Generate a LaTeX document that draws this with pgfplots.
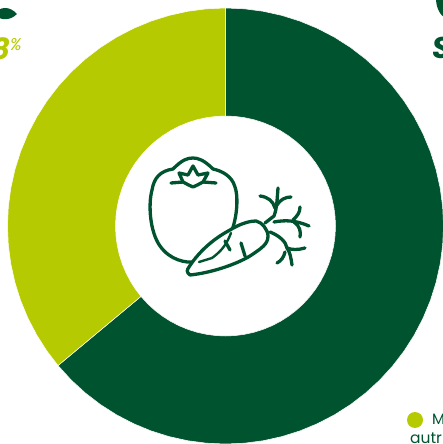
\documentclass[border=0pt]{standalone}
\usepackage{fontspec}
\setmainfont{Poppins}
\usepackage{pgfplots}
\usepgfplotslibrary{polar}
\pgfplotsset{compat=1.18}
\definecolor{darkgreen}{HTML}{00532F}
\definecolor{lime}{HTML}{B5CA00}
\begin{document}
\begin{tikzpicture}
\useasboundingbox (0,0) rectangle (443pt,444pt);
\clip (0,0) rectangle (443pt,444pt);
\begin{polaraxis}[
	at={(225.5pt,218pt)}, anchor=center,
	scale only axis, width=452pt, height=452pt,
	ymin=0, ymax=226, xmin=0, xmax=360,
	hide axis, clip=false]
% dark share, 63.9 percent, angle then radius
\addplot[fill=darkgreen, draw=white, line width=0.5pt] coordinates {
	(90,218)(85,218)(80,218)(75,218)(70,218)(65,218)(60,218)(55,218)(50,218)(45,218)
	(40,218)(35,218)(30,218)(25,218)(20,218)(15,218)(10,218)(5,218)(0,218)
	(-5,218)(-10,218)(-15,218)(-20,218)(-25,218)(-30,218)(-35,218)(-40,218)(-45,218)
	(-50,218)(-55,218)(-60,218)(-65,218)(-70,218)(-75,218)(-80,218)(-85,218)(-90,218)
	(-95,218)(-100,218)(-105,218)(-110,218)(-115,218)(-120,218)(-125,218)(-130,218)(-135,218)(-140.2,218)
	(-140.2,110)(-135,110)(-130,110)(-125,110)(-120,110)(-115,110)(-110,110)(-105,110)(-100,110)(-95,110)
	(-90,110)(-85,110)(-80,110)(-75,110)(-70,110)(-65,110)(-60,110)(-55,110)(-50,110)(-45,110)
	(-40,110)(-35,110)(-30,110)(-25,110)(-20,110)(-15,110)(-10,110)(-5,110)(0,110)
	(5,110)(10,110)(15,110)(20,110)(25,110)(30,110)(35,110)(40,110)(45,110)
	(50,110)(55,110)(60,110)(65,110)(70,110)(75,110)(80,110)(85,110)(90,110)
} -- cycle;
% lime share, 36.1 percent
\addplot[fill=lime, draw=white, line width=0.5pt] coordinates {
	(90,218)(95,218)(100,218)(105,218)(110,218)(115,218)(120,218)(125,218)(130,218)
	(135,218)(140,218)(145,218)(150,218)(155,218)(160,218)(165,218)(170,218)(175,218)
	(180,218)(185,218)(190,218)(195,218)(200,218)(205,218)(210,218)(215,218)(219.8,218)
	(219.8,110)(215,110)(210,110)(205,110)(200,110)(195,110)(190,110)(185,110)(180,110)
	(175,110)(170,110)(165,110)(160,110)(155,110)(150,110)(145,110)(140,110)(135,110)
	(130,110)(125,110)(120,110)(115,110)(110,110)(105,110)(100,110)(95,110)(90,110)
} -- cycle;
\end{polaraxis}
% icon and clipped texts, pixel coordinates of the picture
\begin{scope}[shift={(0,444pt)}, x=1pt, y=-1pt, draw=darkgreen, line width=3.3pt, line cap=round, line join=round]
	% fruit
	\draw (231,233) .. controls (238,215) and (238,195) .. (235,187)
		.. controls (232,176) and (222,171) .. (213,169)
		.. controls (204,160) and (198,158) .. (193,158)
		.. controls (187,158) and (182,160) .. (173,169)
		.. controls (160,171) and (154,178) .. (152,190)
		.. controls (148,205) and (150,232) .. (160,246)
		.. controls (170,260) and (185,263) .. (195,262)
		.. controls (207,263) and (218,258) .. (223,250)
		.. controls (227,245) and (229,238) .. (231,233);
	% calyx
	\draw (171,183) -- (183,182) (203,182) -- (216,183);
	\draw (179,173) -- (188,175) -- (193,166) -- (198,175) -- (208,173) -- (203,182)
		.. controls (199,184) and (196,186) .. (193,187)
		.. controls (190,186) and (187,184) .. (183,182) -- cycle;
	% carrot
	\draw[fill=white] (190,275) .. controls (186,272) and (187,270) .. (189,267)
		.. controls (200,250) and (215,238) .. (230,230)
		.. controls (243,222) and (252,221) .. (256,221)
		.. controls (262,222) and (268,230) .. (268,236)
		.. controls (268,244) and (262,248) .. (250,256)
		.. controls (235,265) and (210,273) .. (190,275) -- cycle;
	\draw (225,241) -- (230,250);
	\draw (241,243) -- (245,256);
	% fruit seen through the carrot tip
	\draw[line width=2.4pt] (231,233) .. controls (227,243) and (223,250) .. (212,258) -- (199,262);
	% leaves
	\draw (265,223) -- (274,216) .. controls (277,208) and (277,200) .. (278,188);
	\draw (260,196) .. controls (268,197) and (273,201) .. (275,208);
	\draw (291,197) .. controls (285,197) and (280,200) .. (277,205);
	\draw (274,222) .. controls (285,220) and (295,220) .. (309,226);
	\draw (300,207) .. controls (300,213) and (297,216) .. (293,220);
	\draw (294,222) .. controls (300,226) and (301,232) .. (300,237);
	\draw (270,232) .. controls (280,236) and (286,242) .. (287,248) .. controls (290,252) and (291,258) .. (292,265);
	\draw (305,248) .. controls (298,250) and (292,250) .. (287,248);
	\draw (285,252) .. controls (284,257) and (281,261) .. (277,263);
\end{scope}
\begin{scope}[shift={(0,444pt)}, x=1pt, y=-1pt]
	% top corners
	\fill[darkgreen] (-6,14) .. controls (0,6) and (10,6) .. (17,14) .. controls (10,21) and (0,21) .. (-6,14) -- cycle;
	\fill[darkgreen] (436,-2) .. controls (436,8) and (440,15) .. (446,19) -- (446,-2) -- cycle;
	\node[anchor=base east, text=lime, font=\bfseries\itshape\fontsize{29}{29}\selectfont, inner sep=0pt] at (10,60) {38};
	\node[anchor=base west, text=lime, font=\itshape\fontsize{17}{17}\selectfont, inner sep=0pt] at (10,51) {\%};
	\node[anchor=base west, text=darkgreen, font=\bfseries\itshape\fontsize{30}{30}\selectfont, inner sep=0pt] at (432,59) {S};
	% legend
	\fill[lime] (415,420) circle (8);
	\node[anchor=base west, text=darkgreen, font=\fontsize{15}{15}\selectfont, inner sep=0pt] at (432,425) {M};
	\node[anchor=base west, text=darkgreen, font=\fontsize{15.5}{15.5}\selectfont, inner sep=0pt] at (410,443) {autr};
\end{scope}
\end{tikzpicture}
\end{document}
